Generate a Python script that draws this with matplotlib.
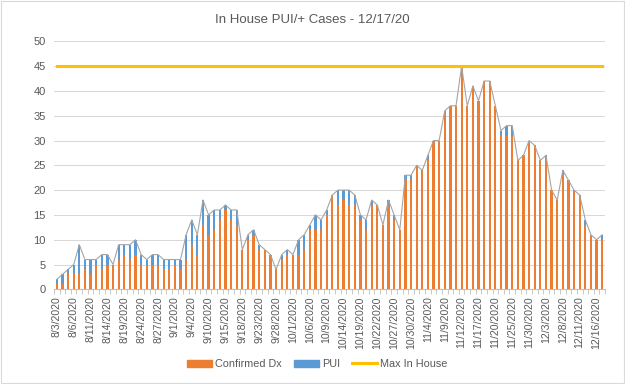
import numpy as np
import pandas as pd
import matplotlib
matplotlib.use("Agg")
import matplotlib.pyplot as plt
from matplotlib.patches import Patch, Rectangle
from matplotlib.lines import Line2D

plt.rcParams["font.family"] = ["Liberation Sans", "DejaVu Sans"]

# weekdays 8/3/2020 - 12/17/2020, Labor Day not in the sheet
days = pd.bdate_range("2020-08-03", "2020-12-17")
days = days[days != pd.Timestamp("2020-09-07")]
dates = [f"{d.month}/{d.day}/{d.year}" for d in days]

confirmed = [1, 1, 3, 3, 3, 4, 3, 5, 4, 5, 5, 6, 7, 6, 7, 5, 5, 5, 5, 4,
             4, 5, 4, 6, 9, 7, 13, 11, 12, 14, 16, 14, 13, 8, 10, 11, 8, 8, 7, 4,
             6, 7, 7, 7, 8, 12, 12, 12, 15, 19, 17, 18, 17, 17, 14, 12, 17, 17, 13, 17,
             14, 12, 22, 22, 25, 24, 26, 30, 30, 36, 37, 37, 45, 37, 41, 38, 42, 42, 37, 31,
             31, 31, 26, 27, 30, 29, 26, 27, 20, 18, 23, 22, 20, 19, 13, 11, 10, 10]
pui = [1, 2, 1, 2, 6, 2, 3, 1, 3, 2, 0, 3, 2, 3, 3, 2, 1, 2, 2, 2,
       2, 1, 2, 5, 5, 4, 5, 4, 4, 2, 1, 2, 3, 0, 1, 1, 1, 0, 0, 0,
       1, 1, 0, 3, 3, 1, 3, 2, 1, 0, 3, 2, 3, 2, 1, 2, 1, 0, 0, 1,
       1, 0, 1, 1, 0, 0, 1, 0, 0, 0, 0, 0, 0, 0, 0, 0, 0, 0, 0, 1,
       2, 2, 0, 0, 0, 0, 0, 0, 0, 0, 1, 0, 0, 0, 1, 0, 0, 1]
max_in_house = 45

orange = "#ED7D31"
blue = "#5B9BD5"
yellow = "#FFC000"
txt = "#595959"

x = np.arange(len(dates))
conf = np.array(confirmed)
p = np.array(pui)
total = conf + p

fig = plt.figure(figsize=(6.25, 3.84), dpi=100)
ax = fig.add_axes([0.0864, 0.2466, 0.8816, 0.6458])

ax.bar(x, conf, width=0.4, color=orange, zorder=2)
ax.bar(x, p, width=0.4, bottom=conf, color=blue, zorder=2)
ax.plot(x, total, color="#A5A5A5", lw=0.8, zorder=3)
ax.plot(x, [max_in_house] * len(x), color=yellow, lw=2.2, zorder=4)

ax.set_xlim(-0.5, len(x) - 0.5)
ax.set_ylim(0, 50)
ax.set_yticks(range(0, 51, 5))
ax.grid(axis="y", color="#D9D9D9", lw=0.75, zorder=0)
ax.set_axisbelow(True)

ax.set_xticks(x[::3])
ax.set_xticklabels(dates[::3], rotation=90, fontsize=7.6, color=txt)
ax.set_xticks(np.arange(-0.5, len(x), 1), minor=True)
ax.tick_params(axis="x", which="major", length=0, pad=5)
ax.tick_params(axis="x", which="minor", length=3.5, color="#BFBFBF", width=0.6)
ax.tick_params(axis="y", length=0, labelsize=8, labelcolor=txt, pad=6)
for s in ["top", "right", "left"]:
    ax.spines[s].set_visible(False)
ax.spines["bottom"].set_color("#BFBFBF")
ax.spines["bottom"].set_linewidth(0.75)

fig.text(0.5, 0.948, "In House PUI/+ Cases - 12/17/20", ha="center", va="center",
         fontsize=9.5, color=txt)

handles = [Patch(color=orange), Patch(color=blue), Line2D([], [], color=yellow, lw=2.2)]
fig.legend(handles, ["Confirmed Dx", "PUI", "Max In House"], loc="center",
           bbox_to_anchor=(0.508, 0.052), ncol=3, frameon=False, fontsize=7.8,
           labelcolor=txt, handlelength=2.3, handleheight=0.6, columnspacing=1.1,
           handletextpad=0.3)

fig.patches.append(Rectangle((0.001, 0.002), 0.997, 0.995, transform=fig.transFigure,
                             fill=False, edgecolor="#D9D9D9", lw=0.8))

fig.savefig("out.png", dpi=100)
